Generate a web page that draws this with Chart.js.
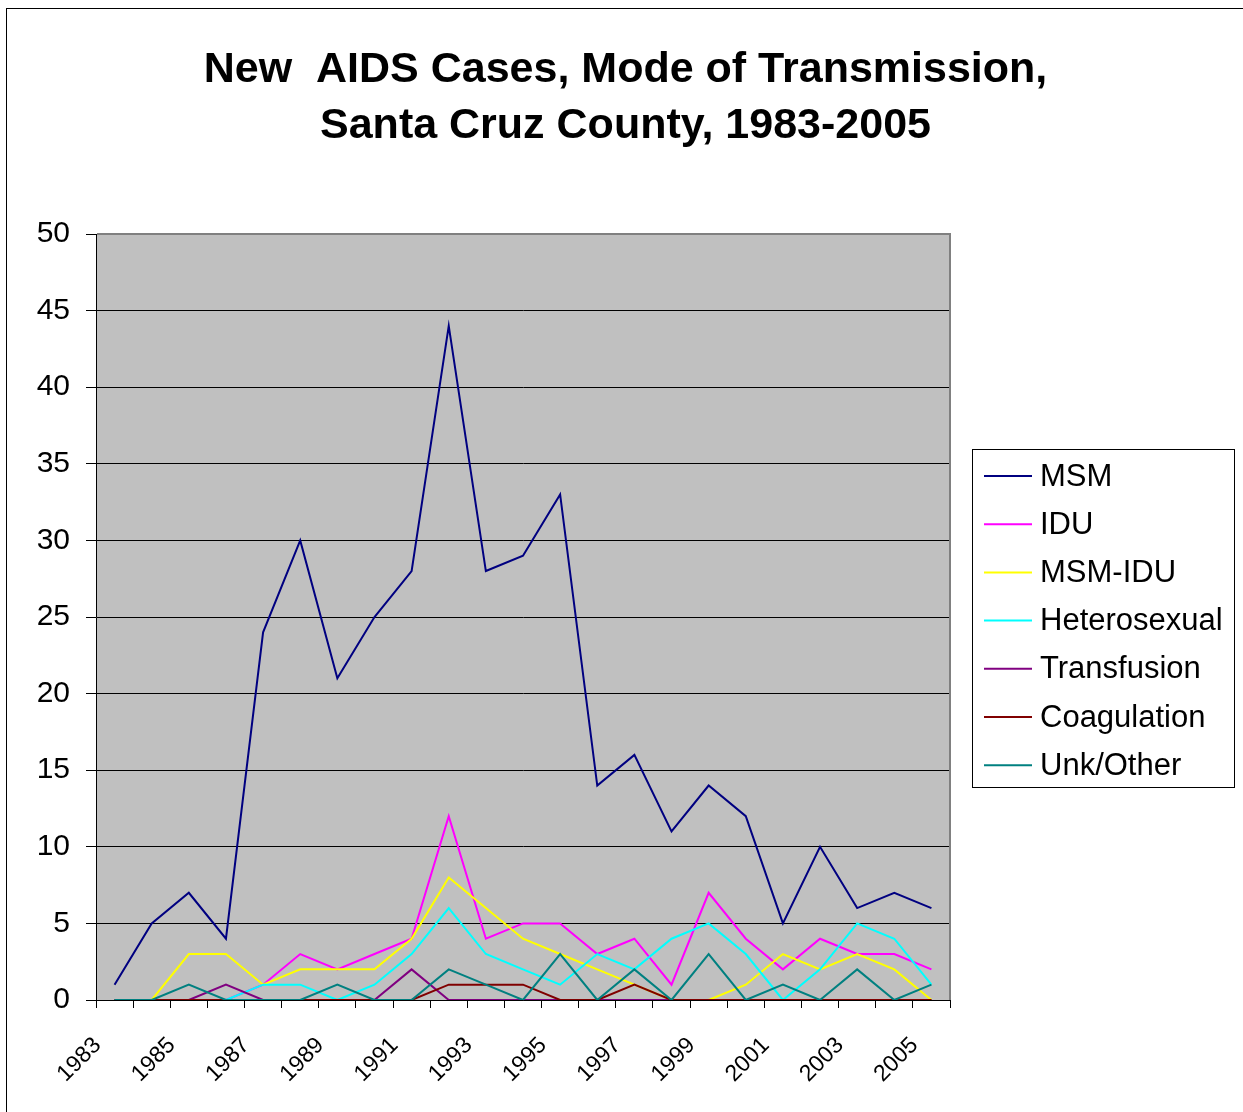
<!DOCTYPE html>
<html>
<head>
<meta charset="utf-8">
<title>New AIDS Cases, Mode of Transmission</title>
<script src="https://cdn.jsdelivr.net/npm/chart.js@4/dist/chart.umd.min.js"></script>
<style>
    body { margin: 0; background: #fff; }
    #wrap { position: relative; width: 1243px; height: 1112px; }
</style>
</head>
<body>
<div id="wrap"><canvas id="chart"></canvas></div>
<script>
// Values

const years = ['1983', '1984', '1985', '1986', '1987', '1988', '1989', '1990', '1991', '1992', '1993', '1994',
    '1995', '1996', '1997', '1998', '1999', '2000', '2001', '2002', '2003', '2004', '2005'];

const msm          = [1, 5, 7, 4, 24, 30, 21, 25, 28, 44, 28, 29, 33, 14, 16, 11, 14, 12, 5, 10, 6, 7, 6];
const idu          = [0, 0, 0, 0, 1, 3, 2, 3, 4, 12, 4, 5, 5, 3, 4, 1, 7, 4, 2, 4, 3, 3, 2];
const msmIdu       = [0, 0, 3, 3, 1, 2, 2, 2, 4, 8, 6, 4, 3, 2, 1, 0, 0, 1, 3, 2, 3, 2, 0];
const heterosexual = [0, 0, 0, 0, 1, 1, 0, 1, 3, 6, 3, 2, 1, 3, 2, 4, 5, 3, 0, 2, 5, 4, 1];
const transfusion  = [0, 0, 0, 1, 0, 0, 0, 0, 2, 0, 0, 0, 0, 0, 0, 0, 0, 0, 0, 0, 0, 0, 0];
const coagulation  = [0, 0, 0, 0, 0, 0, 0, 0, 0, 1, 1, 1, 0, 0, 1, 0, 0, 0, 0, 0, 0, 0, 0];
const unkOther     = [0, 0, 1, 0, 0, 0, 1, 0, 0, 2, 1, 0, 3, 0, 2, 0, 3, 0, 1, 0, 2, 0, 1];

const seriesNames  = ['MSM', 'IDU', 'MSM-IDU', 'Heterosexual', 'Transfusion', 'Coagulation', 'Unk/Other'];
const seriesColors = ['#000080', '#FF00FF', '#FFFF00', '#00FFFF', '#800080', '#800000', '#008080'];
const seriesValues = [msm, idu, msmIdu, heterosexual, transfusion, coagulation, unkOther];

const titleLines = ['New  AIDS Cases, Mode of Transmission,', 'Santa Cruz County, 1983-2005'];

const FONT = "'Liberation Sans', Arial, sans-serif";

// gray plot area, drawn under the grid
const plotBackground = {
    id: 'plotBackground',
    beforeDraw(chart) {
        const { ctx, chartArea: a } = chart;
        ctx.save();
        ctx.fillStyle = '#C0C0C0';
        ctx.fillRect(a.left, a.top, a.right - a.left, a.bottom - a.top);
        ctx.restore();
    }
};

// outer frame, title, plot border and the boxed legend
const excelFrame = {
    id: 'excelFrame',
    afterDraw(chart) {
        const { ctx, chartArea: a } = chart;
        ctx.save();

        ctx.strokeStyle = '#000';
        ctx.lineWidth = 1;
        ctx.strokeRect(6.5, 8.5, chart.width + 20, chart.height + 20);

        ctx.strokeStyle = '#808080';
        ctx.lineWidth = 2;
        ctx.beginPath();
        ctx.moveTo(a.left + 1, a.top);
        ctx.lineTo(a.right, a.top);
        ctx.lineTo(a.right, a.bottom);
        ctx.stroke();

        ctx.fillStyle = '#000';
        ctx.font = 'bold 43px ' + FONT;
        ctx.textAlign = 'center';
        ctx.textBaseline = 'alphabetic';
        titleLines.forEach(function (line, i) {
            ctx.fillText(line, chart.width / 2 + 4, 82 + i * 56);
        });

        const left = a.right + 22;
        const top = 449;
        const rowH = 48.2;
        ctx.strokeStyle = '#000';
        ctx.lineWidth = 1;
        ctx.strokeRect(left + 0.5, top + 0.5, 262, 338);

        ctx.font = '31px ' + FONT;
        ctx.textAlign = 'left';
        ctx.textBaseline = 'middle';
        chart.data.datasets.forEach(function (ds, i) {
            const y = top + 27 + i * rowH;
            ctx.strokeStyle = ds.borderColor;
            ctx.lineWidth = 2;
            ctx.beginPath();
            ctx.moveTo(left + 12, y);
            ctx.lineTo(left + 60, y);
            ctx.stroke();
            ctx.fillStyle = '#000';
            ctx.fillText(ds.label, left + 68, y + 1);
        });
        ctx.restore();
    }
};

const datasets = seriesNames.map(function (name, i) {
    return {
        label: name,
        data: seriesValues[i],
        borderColor: seriesColors[i],
        backgroundColor: seriesColors[i],
        borderWidth: 2,
        pointRadius: 0,
        tension: 0,
        fill: false,
        order: seriesNames.length - i   // later series on top, like Excel
    };
});

new Chart(document.getElementById('chart'), {
    type: 'line',
    data: { labels: years, datasets: datasets },
    plugins: [plotBackground, excelFrame],
    options: {
        responsive: true,
        maintainAspectRatio: false,
        animation: false,
        layout: { padding: { top: 234, right: 293, left: 0, bottom: 0 } },
        plugins: {
            legend: { display: false },
            title: { display: false },
            tooltip: { enabled: false }
        },
        scales: {
            x: {
                offset: true,
                afterFit: function (scale) { scale.height = 112; },
                grid: {
                    offset: true,
                    drawOnChartArea: false,
                    drawTicks: true,
                    tickLength: 8,
                    color: '#000'
                },
                border: { color: '#000', width: 1 },
                ticks: {
                    autoSkip: false,
                    maxRotation: 45,
                    minRotation: 45,
                    padding: 24,
                    labelOffset: -17,
                    color: '#000',
                    font: { family: FONT, size: 23 },
                    callback: function (value, index) {
                        return index % 2 === 0 ? this.getLabelForValue(value) : '';
                    }
                }
            },
            y: {
                min: 0,
                max: 50,
                afterFit: function (scale) { scale.width = 96; },
                grid: {
                    color: '#000',
                    lineWidth: 1,
                    tickLength: 10
                },
                border: { color: '#000', width: 1 },
                ticks: {
                    stepSize: 5,
                    padding: 16,
                    color: '#000',
                    font: { family: FONT, size: 30 }
                }
            }
        }
    }
});
</script>
</body>
</html>
